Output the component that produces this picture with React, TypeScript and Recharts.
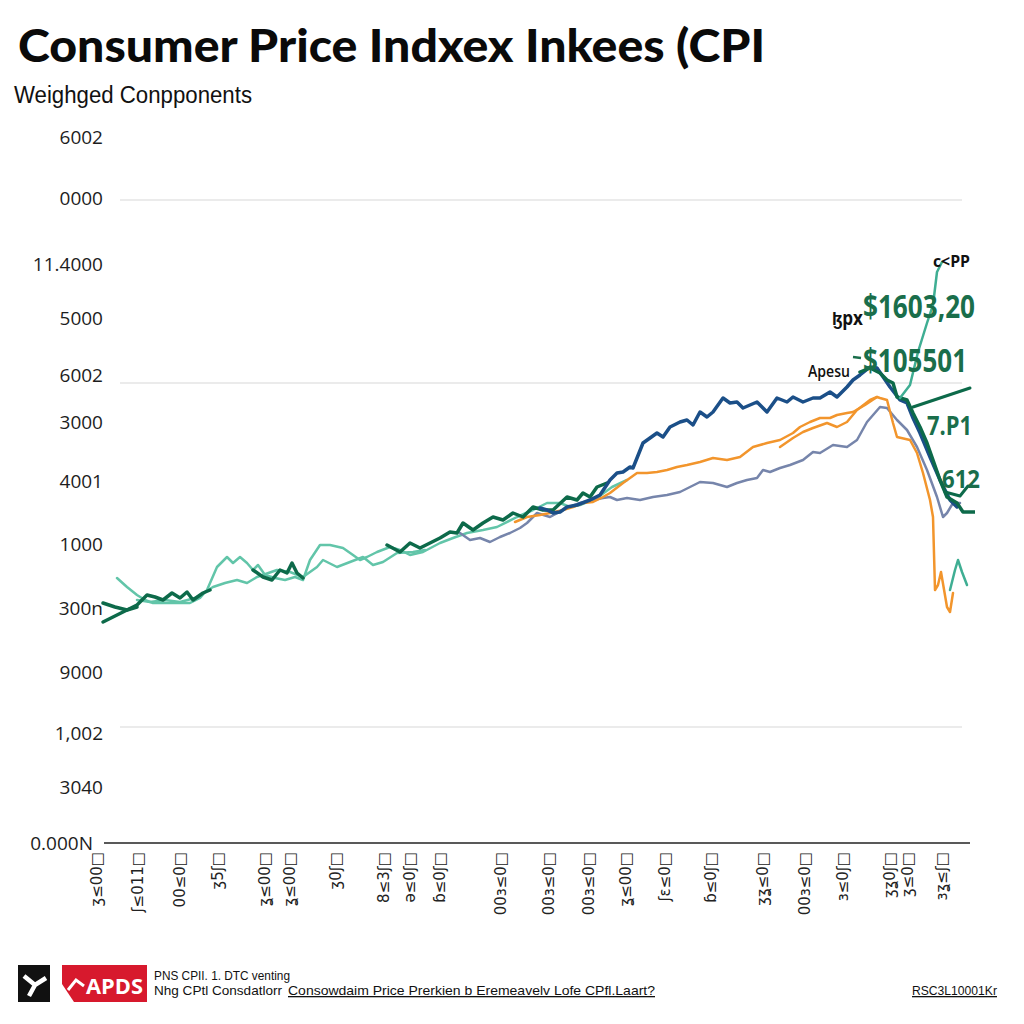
import React from "react";
import { LineChart, Line, XAxis, YAxis, ReferenceLine } from "recharts";

type Pt = [number, number | null];

// ---- data (x = period index, v = index level) ----
const greenMain: Pt[] = [
  [8, 240], [20, 236], [32, 233], [42, 238], [52, 248], [60, 246], [68, 243], [77, 250], [85, 245], [92, 251], [98, 243], [108, 250], [115, 253],
  [135, null],
  [158, 273], [168, 266], [177, 263], [185, 273], [192, 270], [197, 280], [202, 270], [208, 265],
  [250, null],
  [292, 298], [305, 291], [315, 300], [325, 295], [335, 300], [345, 305], [355, 311], [362, 310], [368, 320], [378, 313], [388, 320], [398, 326], [408, 323],
  [418, 330], [428, 326], [438, 336], [448, 333], [458, 333], [472, 346], [482, 343], [488, 350], [495, 346], [502, 356], [512, 360],
];
const greenStart: Pt[] = [[8, 221], [20, 227], [32, 233], [42, 236]];
const greenRight: Pt[] = [
  [765, 471], [775, 475], [785, 470], [792, 463], [798, 460], [802, 446], [812, 443], [818, 430], [825, 416], [832, 400], [838, 383], [845, 363],
  [852, 346], [862, 340], [868, 331], [880, 331],
];
const greenBranch: Pt[] = [[818, 436], [845, 445], [875, 455]];
const greenTail: Pt[] = [[850, 351], [865, 347], [873, 357]];

const tealUpper: Pt[] = [
  [22, 265], [32, 256], [42, 248], [50, 243], [58, 240], [70, 240], [85, 240], [95, 240], [105, 245], [112, 253], [122, 276], [132, 286], [138, 280],
  [145, 286], [152, 280], [158, 273], [163, 278], [170, 268], [180, 265], [190, 263], [200, 266], [208, 263], [215, 283], [225, 298], [235, 298],
  [248, 295], [258, 288], [265, 283], [272, 286], [282, 291], [295, 296], [305, 293], [315, 288], [328, 291], [345, 300], [358, 305], [372, 310],
  [388, 313], [402, 316], [422, 326], [438, 333], [452, 340], [465, 340], [475, 336], [485, 338], [502, 345], [517, 356], [532, 363],
];
const tealLower: Pt[] = [
  [42, 243], [55, 241], [70, 243], [85, 241], [100, 245], [118, 256], [130, 260], [142, 263], [152, 260], [162, 266], [182, 273], [195, 271],
  [208, 266], [222, 276], [228, 283], [242, 276], [255, 281], [268, 286], [278, 278], [288, 281], [302, 290], [318, 291], [330, 293],
];
const tealTop: Pt[] = [[805, 445], [815, 458], [823, 491], [832, 520], [838, 538], [842, 571], [847, 581]];
const tealTail: Pt[] = [[855, 253], [860, 273], [863, 283], [867, 271], [872, 258]];

const blueSeries: Pt[] = [
  [445, 335], [452, 333], [458, 330], [465, 331], [472, 336], [482, 338], [495, 343], [505, 348], [515, 363], [522, 370], [528, 371], [535, 376],
  [538, 375], [548, 400], [555, 405], [562, 410], [568, 406], [575, 416], [585, 421], [592, 423], [598, 418], [605, 431], [612, 426], [618, 431],
  [628, 445], [635, 440], [642, 441], [648, 435], [655, 438], [662, 441], [672, 431], [682, 445], [692, 441], [698, 446], [708, 441], [718, 445],
  [725, 445], [735, 451], [742, 446], [752, 456], [758, 463], [765, 468], [775, 476], [782, 475], [795, 456], [805, 443], [812, 440], [818, 425],
  [825, 410], [835, 386], [845, 363], [855, 343], [862, 336],
];
const slateSeries: Pt[] = [
  [365, 310], [375, 303], [385, 305], [395, 301], [405, 306], [415, 310], [425, 315], [432, 320], [442, 330], [455, 326], [472, 335], [485, 340],
  [498, 343], [508, 345], [515, 346], [522, 343], [532, 345], [545, 343], [558, 346], [572, 348], [585, 351], [595, 356], [605, 361], [618, 360],
  [632, 356], [642, 360], [652, 363], [662, 365], [668, 373], [675, 371], [685, 375], [695, 378], [708, 383], [718, 391], [725, 390], [738, 398],
  [752, 396], [762, 403], [772, 421], [785, 436], [792, 435], [802, 423], [812, 413], [822, 396], [832, 373], [842, 346], [848, 326], [852, 330],
  [858, 340], [865, 340],
];
const orangeSeries: Pt[] = [
  [420, 321], [432, 326], [445, 328], [455, 330], [468, 333], [478, 336], [488, 340], [498, 341], [508, 346], [515, 350], [528, 360], [542, 370],
  [552, 370], [562, 371], [572, 373], [582, 376], [592, 378], [605, 381], [618, 385], [632, 383], [645, 386], [658, 396], [672, 400], [685, 403],
  [698, 410], [705, 416], [715, 421], [725, 425], [735, 425], [742, 428], [752, 430], [758, 431], [770, 438], [782, 446], [785, 445], [792, 443],
  [798, 420], [802, 406], [815, 403], [822, 390], [828, 370], [835, 343], [838, 326], [840, 253], [843, 258], [846, 271], [852, 236], [855, 231],
  [858, 250],
];
const orangeSecond: Pt[] = [
  [685, 396], [698, 405], [708, 411], [718, 415], [732, 420], [742, 416], [752, 421], [762, 433], [775, 443], [782, 446],
];

const yTickValues = [706, 645, 579, 525, 468, 421, 362, 299, 235, 171, 110, 56, 0];
const yTickLabels = ["6002", "0000", "11.4000", "5000", "6002", "3000", "4001", "1000", "300n", "9000", "1,002", "3040", "0.000N"];
const gridValues = [643, 460, 116];

const xTickValues = [2, 43, 85, 123, 170, 195, 241, 289, 315, 345, 406, 454, 494, 531, 570, 616, 668, 710, 748, 795, 813, 847];
const xTickLabels = [
  "ʒ≤00□", "ʃ≤011□", "00≤0□", "ʒ5ʃ□", "ʓ≤00□", "ʓ≤00□", "ʒ0ʃ□", "8≤3ʃ□", "ə≤0ʃ□", "ɓ≤0ʃ□", "00ɜ≤0□",
  "00ɜ≤0□", "00ɜ≤0□", "ʓ≤00□", "ʃɛ≤0□", "ɓ≤0ʃ□", "ʒʓ≤0□", "00ɜ≤0□", "ɜ≤0ʃ□", "ʒʓ0ʃ□", "ʒ≤0□", "ɜʓ≤ʃ□",
];

const rows = (pts: Pt[]) => pts.map(([x, v]) => ({ x, v }));

const C = {
  green: "#0d6a4a",
  teal: "#62c5a9",
  tealDark: "#3fae93",
  blue: "#1b4f88",
  slate: "#7685ab",
  orange: "#f2952c",
  annot: "#1a6e4b",
};

const YTick = (props: any) => {
  const { y, payload } = props;
  const i = yTickValues.indexOf(payload.value);
  return (
    <text x={payload.value === 0 ? 93 : 103} y={y} textAnchor="end" dominantBaseline="central" fontSize={19} fontWeight={500} fontFamily="Open Sans, sans-serif" fill="#1d1d1d">
      {yTickLabels[i]}
    </text>
  );
};

const XTick = (props: any) => {
  const { x, payload } = props;
  const i = xTickValues.indexOf(payload.value);
  return (
    <text transform={`translate(${x},${852}) rotate(-90)`} textAnchor="end" dominantBaseline="central" fontSize={15} fontFamily="DejaVu Sans, sans-serif" fill="#222">
      {xTickLabels[i]}
    </text>
  );
};

const series: { pts: Pt[]; color: string; w: number }[] = [
  { pts: tealLower, color: C.teal, w: 2.5 },
  { pts: tealUpper, color: C.teal, w: 2.5 },
  { pts: slateSeries, color: C.slate, w: 2.5 },
  { pts: orangeSecond, color: C.orange, w: 2.5 },
  { pts: orangeSeries, color: C.orange, w: 2.5 },
  { pts: greenStart, color: C.green, w: 3.5 },
  { pts: greenMain, color: C.green, w: 3.5 },
  { pts: blueSeries, color: C.blue, w: 3.5 },
  { pts: greenRight, color: C.green, w: 3.5 },
  { pts: greenBranch, color: C.green, w: 3 },
  { pts: greenTail, color: C.green, w: 3 },
  { pts: tealTop, color: C.tealDark, w: 2.5 },
  { pts: tealTail, color: C.tealDark, w: 2.5 },
];

export default function App() {
  return (
    <div style={{ position: "absolute", left: 0, top: 0, width: 1024, height: 1024, background: "#fff" }}>
      <LineChart width={1024} height={1024} margin={{ top: 130, right: 49, left: 15, bottom: 111 }}>
        <XAxis type="number" dataKey="x" domain={[0, 880]} ticks={xTickValues} interval={0} axisLine={false} tickLine={false} tick={<XTick />} height={70} allowDataOverflow />
        <YAxis type="number" domain={[0, 713]} ticks={yTickValues} interval={0} axisLine={false} tickLine={false} tick={<YTick />} width={80} allowDataOverflow />
        {gridValues.map((g) => (
          <ReferenceLine key={g} segment={[{ x: 25, y: g }, { x: 867, y: g }]} stroke="#e4e4e4" strokeWidth={1.5} ifOverflow="visible" />
        ))}
        <ReferenceLine segment={[{ x: 9, y: 0 }, { x: 875, y: 0 }]} stroke="#222" strokeWidth={1.5} ifOverflow="visible" />
        {series.map((s, i) => (
          <Line
            key={i}
            data={rows(s.pts)}
            dataKey="v"
            type="linear"
            stroke={s.color}
            strokeWidth={s.w}
            dot={false}
            activeDot={false}
            connectNulls={false}
            isAnimationActive={false}
            strokeLinejoin="round"
            strokeLinecap="round"
          />
        ))}
      </LineChart>
      <svg width={1024} height={1024} style={{ position: "absolute", left: 0, top: 0, pointerEvents: "none" }}>
        <text x={18} y={62} fontSize={46} fontWeight={900} fontFamily="Lato, sans-serif" fill="#0a0a0a" textLength={747} lengthAdjust="spacingAndGlyphs">
          Consumer Price Indxex Inkees (CPI
        </text>
        <text x={14} y={103} fontSize={23} fontFamily="Liberation Sans Narrow, Liberation Sans, sans-serif" fill="#111" textLength={238} lengthAdjust="spacingAndGlyphs">
          Weighged Conpponents
        </text>

        {/* annotations */}
        <text x={933} y={267} fontSize={16} fontWeight={700} fontFamily="Open Sans, sans-serif" fill="#111" textLength={37} lengthAdjust="spacingAndGlyphs">c&lt;PP</text>
        <text x={863} y={318} fontSize={32} fontWeight={700} fontFamily="Open Sans, sans-serif" fill={C.annot} textLength={112} lengthAdjust="spacingAndGlyphs">$1603,20</text>
        <text x={832} y={325} fontSize={19} fontWeight={700} fontFamily="Open Sans, sans-serif" fill="#111" textLength={31} lengthAdjust="spacingAndGlyphs">ɮpx</text>
        <line x1={853} y1={357} x2={861} y2={358} stroke={C.annot} strokeWidth={2.5} />
        <text x={863} y={372} fontSize={32} fontWeight={700} fontFamily="Open Sans, sans-serif" fill={C.annot} textLength={104} lengthAdjust="spacingAndGlyphs">$105501</text>
        <text x={808} y={377} fontSize={16} fontWeight={600} fontFamily="Open Sans, sans-serif" fill="#111" textLength={42} lengthAdjust="spacingAndGlyphs">Apesu</text>
        <text x={927} y={435} fontSize={26} fontWeight={700} fontFamily="Open Sans, sans-serif" fill={C.annot} textLength={45} lengthAdjust="spacingAndGlyphs">7.P1</text>
        <text x={942} y={488} fontSize={25} fontWeight={700} fontFamily="Open Sans, sans-serif" fill={C.annot} textLength={38} lengthAdjust="spacingAndGlyphs">612</text>

        {/* footer */}
        <rect x={18} y={965} width={32} height={37} fill="#111" />
        <path d="M24 976 L35 985 L46 978 M35 985 L29 996" stroke="#fff" strokeWidth={4.5} fill="none" />
        <polygon points="62,965 147,965 147,1002 74,1002 62,984" fill="#d7192d" />
        <path d="M68 990 L76 980 L84 986" stroke="#fff" strokeWidth={3} fill="none" />
        <text x={86} y={994} fontSize={22} fontWeight={700} fontFamily="Open Sans, sans-serif" fill="#fff" textLength={57} lengthAdjust="spacingAndGlyphs">APDS</text>
        <text x={154} y={980} fontSize={13} fontFamily="Liberation Sans Narrow, Liberation Sans, sans-serif" fill="#111" textLength={136} lengthAdjust="spacingAndGlyphs">PNS CPII. 1. DTC venting</text>
        <text x={154} y={995} fontSize={13} fontFamily="Liberation Sans Narrow, Liberation Sans, sans-serif" fill="#111" textLength={128} lengthAdjust="spacingAndGlyphs">Nhg CPtl Consdatlorr</text>
        <text x={288} y={995} fontSize={13} fontFamily="Liberation Sans Narrow, Liberation Sans, sans-serif" fill="#111" textDecoration="underline" textLength={367} lengthAdjust="spacingAndGlyphs">Consowdaim Price Prerkien b Eremeavelv Lofe CPfl.Laart?</text>
        <text x={912} y={995} fontSize={13} fontFamily="Liberation Sans Narrow, Liberation Sans, sans-serif" fill="#111" textDecoration="underline" textLength={85} lengthAdjust="spacingAndGlyphs">RSC3L10001Kr</text>
      </svg>
    </div>
  );
}
